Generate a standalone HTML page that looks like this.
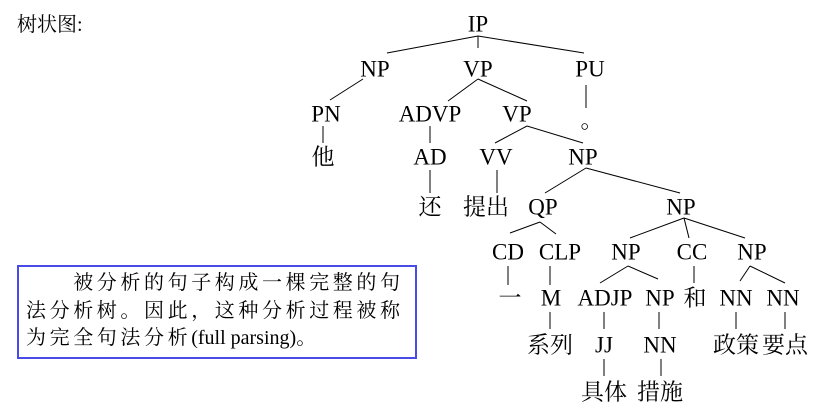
<!DOCTYPE html>
<html><head><meta charset="utf-8"><style>
body{margin:0;background:#fff;}
svg text{font-family:"Liberation Serif","DejaVu Serif","Noto Serif CJK SC",serif;font-size:23px;fill:#000;}
.t{position:absolute;left:17px;top:8px;font-family:"Liberation Serif","Noto Serif CJK SC",serif;font-size:20px;}
.box{position:absolute;left:17px;top:265px;width:400px;height:94px;border:2px solid #4a4ae6;box-sizing:border-box;font-family:"Liberation Serif","Noto Serif CJK SC",serif;font-size:20px;line-height:27.5px;padding:3px 0 0 7px;letter-spacing:3.6px;white-space:nowrap;}
</style></head><body>
<div class="t">树状图:</div>
<div class="box">&emsp;&emsp;被分析的句子构成一棵完整的句<br>法分析树。因此，这种分析过程被称<br>为完全句法分析<span style="letter-spacing:0">(full parsing)</span>。</div>
<svg width="816" height="406" style="position:absolute;left:0;top:0" text-anchor="middle" dominant-baseline="central">
<g stroke="#000" stroke-width="1">
<line x1="478" y1="36" x2="387" y2="53"/><line x1="478" y1="36" x2="478" y2="48"/><line x1="478" y1="36" x2="584" y2="53"/>
<line x1="363" y1="79" x2="330" y2="100"/>
<line x1="478" y1="79" x2="448" y2="101"/><line x1="478" y1="79" x2="527" y2="101"/>
<line x1="586" y1="85" x2="586" y2="108"/>
<line x1="323" y1="126" x2="323" y2="143"/>
<line x1="430" y1="126" x2="430" y2="143"/>
<line x1="527" y1="126" x2="495" y2="143"/><line x1="527" y1="126" x2="583" y2="143"/>
<line x1="430" y1="170" x2="430" y2="193"/>
<line x1="497" y1="170" x2="497" y2="193"/>
<line x1="586" y1="168" x2="545" y2="193"/><line x1="586" y1="168" x2="680" y2="193"/>
<line x1="540" y1="222" x2="510" y2="233"/><line x1="540" y1="222" x2="556" y2="234"/>
<line x1="684" y1="218" x2="630" y2="238"/><line x1="684" y1="218" x2="689" y2="238"/><line x1="684" y1="218" x2="745" y2="238"/>
<line x1="508" y1="266" x2="508" y2="285"/>
<line x1="550" y1="266" x2="550" y2="285"/>
<line x1="628" y1="266" x2="600" y2="283"/><line x1="628" y1="266" x2="658" y2="279"/>
<line x1="694" y1="266" x2="694" y2="283"/>
<line x1="750" y1="266" x2="740" y2="281"/><line x1="750" y1="266" x2="785" y2="283"/>
<line x1="550" y1="312" x2="550" y2="329"/>
<line x1="604" y1="312" x2="604" y2="329"/>
<line x1="659" y1="312" x2="659" y2="329"/>
<line x1="736" y1="312" x2="736" y2="329"/>
<line x1="785" y1="312" x2="785" y2="329"/>
<line x1="604" y1="359" x2="604" y2="376"/>
<line x1="661" y1="359" x2="661" y2="376"/>
</g>
<text x="478" y="24">IP</text>
<text x="375" y="69">NP</text><text x="478" y="69">VP</text><text x="590" y="69">PU</text>
<text x="326" y="114">PN</text><text x="430" y="114">ADVP</text><text x="517" y="114">VP</text><text x="592" y="120">。</text>
<text x="323" y="157">他</text><text x="430" y="157">AD</text><text x="496" y="157">VV</text><text x="583" y="157">NP</text>
<text x="430" y="207">还</text><text x="486" y="207">提出</text><text x="543" y="207">QP</text><text x="681" y="207">NP</text>
<text x="508" y="252">CD</text><text x="560" y="252">CLP</text><text x="626" y="252">NP</text><text x="692" y="252">CC</text><text x="752" y="252">NP</text>
<text x="510" y="298">一</text><text x="551" y="298">M</text><text x="605" y="298">ADJP</text><text x="660" y="298">NP</text><text x="695" y="298">和</text><text x="736" y="298">NN</text><text x="783" y="298">NN</text>
<text x="550" y="345">系列</text><text x="604" y="345">JJ</text><text x="660" y="345">NN</text><text x="736" y="345">政策</text><text x="785" y="345">要点</text>
<text x="604" y="392">具体</text><text x="660" y="392">措施</text>
</svg>
</body></html>
